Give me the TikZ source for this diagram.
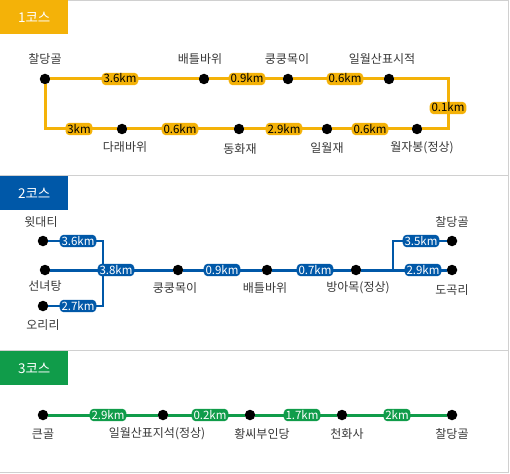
\documentclass[tikz,border=0pt]{standalone}
\usepackage{fontspec}
\setmainfont{Noto Sans CJK KR}
\definecolor{cyel}{RGB}{244,178,8}
\definecolor{cblue}{RGB}{0,88,168}
\definecolor{cgreen}{RGB}{16,156,74}
\definecolor{cbord}{RGB}{208,208,208}
\definecolor{ctxt}{RGB}{55,55,55}
\begin{document}
\begin{tikzpicture}[x=1pt,y=-1pt,
  dot/.style={circle,fill=black,inner sep=0pt,minimum size=10.5pt},
  stn/.style={font=\fontsize{12}{12}\selectfont,text=ctxt,inner sep=0pt},
  km/.style={font=\fontsize{11.5}{11.5}\selectfont,inner xsep=1.8pt,inner ysep=1.6pt,rounded corners=4pt,text height=8.6pt,text depth=0.6pt},
  kmy/.style={km,fill=cyel,text=black},
  kmb/.style={km,fill=cblue,text=white},
  kmg/.style={km,fill=cgreen,text=white},
  tabbox/.style={inner sep=0pt,minimum width=68pt,minimum height=34pt,text=white,font=\fontsize{13.5}{13.5}\selectfont},
  yl/.style={draw=cyel,line width=3pt},
  bl/.style={draw=cblue,line width=3pt},
  blt/.style={draw=cblue,line width=1.2pt},
  gl/.style={draw=cgreen,line width=3pt},
  bord/.style={draw=cbord,line width=1pt}]
\useasboundingbox (0,0) rectangle (510,473);
% borders
\draw[bord] (0,0.5) -- (508.5,0.5) -- (508.5,472) -- (0,472);
\draw[bord] (0,175) -- (508.5,175);
\draw[bord] (0,350) -- (508.5,350);
% tabs
\node[tabbox,fill=cyel,anchor=north west] (t1) at (0,0) {1코스};
\node[tabbox,fill=cblue,anchor=north west] (t2) at (0,176) {2코스};
\node[tabbox,fill=cgreen,anchor=north west] (t3) at (0,351) {3코스};

% ===== course 1
\node[dot] (a1) at (45,79) {};
\node[dot] (a2) at (204,79) {};
\node[dot] (a3) at (288,79) {};
\node[dot] (a4) at (389,79) {};
\coordinate (atr) at (448,79);
\node[dot] (a5) at (417,129) {};
\node[dot] (a6) at (327,129) {};
\node[dot] (a7) at (239,129) {};
\node[dot] (a8) at (122,129) {};
\draw[yl] (a1) -- (a2) -- (a3) -- (a4) -- (atr) |- (a5) -- (a6) -- (a7) -- (a8);
\draw[yl] (a1) |- (a8);
\node[kmy] (k11) at (120,79) {3.6km};
\node[kmy] (k12) at (247,79) {0.9km};
\node[kmy] (k13) at (345,79) {0.6km};
\node[kmy] (k14) at (448,108) {0.1km};
\node[kmy] (k15) at (370,129) {0.6km};
\node[kmy] (k16) at (284,129) {2.9km};
\node[kmy] (k17) at (180,129) {0.6km};
\node[kmy] (k18) at (79,129) {3km};
\node[stn] (n11) at (45,59) {찰당골};
\node[stn] (n12) at (200,59) {배틀바위};
\node[stn] (n13) at (287,59) {쿵쿵목이};
\node[stn] (n14) at (382,59) {일월산표시적};
\node[stn] (n15) at (125,147) {다래바위};
\node[stn] (n16) at (240,149) {동화재};
\node[stn] (n17) at (327,148) {일월재};
\node[stn] (n18) at (422,148) {월자봉(정상)};

% ===== course 2
\node[dot] (b1) at (43,241) {};
\node[dot] (b2) at (45,270) {};
\node[dot] (b3) at (43,306) {};
\node[dot] (b4) at (178,270) {};
\node[dot] (b5) at (267,270) {};
\node[dot] (b6) at (356,270) {};
\node[dot] (b7) at (452,241) {};
\node[dot] (b8) at (452,270) {};
\coordinate (ja) at (103,241);
\coordinate (jb) at (103,306);
\coordinate (jc) at (393,270);
\coordinate (jd) at (393,241);
\draw[blt] (b1) -- (ja) -- (jb) -- (b3);
\draw[bl] (b2) -- (b4) -- (b5) -- (b6) -- (b8);
\draw[blt] (jc) -- (jd) -- (b7);
\node[kmb] (k21) at (78,241) {3.6km};
\node[kmb] (k22) at (78,306) {2.7km};
\node[kmb] (k23) at (116,270) {3.8km};
\node[kmb] (k24) at (222,270) {0.9km};
\node[kmb] (k25) at (315,270) {0.7km};
\node[kmb] (k26) at (421,241) {3.5km};
\node[kmb] (k27) at (423,270) {2.9km};
\node[stn] (n21) at (41,222) {윗대티};
\node[stn] (n22) at (45,286) {선녀탕};
\node[stn] (n23) at (43,325) {오리리};
\node[stn] (n24) at (175,288) {쿵쿵목이};
\node[stn] (n25) at (265,288) {배틀바위};
\node[stn] (n26) at (358,288) {방아목(정상)};
\node[stn] (n27) at (452,222) {찰당골};
\node[stn] (n28) at (452,290) {도곡리};

% ===== course 3
\node[dot] (c1) at (43,415) {};
\node[dot] (c2) at (163,415) {};
\node[dot] (c3) at (250,415) {};
\node[dot] (c4) at (342,415) {};
\node[dot] (c5) at (452,415) {};
\draw[gl] (c1) -- (c2) -- (c3) -- (c4) -- (c5);
\node[kmg] (k31) at (108,415) {2.9km};
\node[kmg] (k32) at (210,415) {0.2km};
\node[kmg] (k33) at (302,415) {1.7km};
\node[kmg] (k34) at (397,415) {2km};
\node[stn] (n31) at (43,434) {큰골};
\node[stn] (n32) at (157,434) {일월산표지석(정상)};
\node[stn] (n33) at (262,434) {황씨부인당};
\node[stn] (n34) at (347,434) {천화사};
\node[stn] (n35) at (452,434) {찰당골};
\end{tikzpicture}
\end{document}
